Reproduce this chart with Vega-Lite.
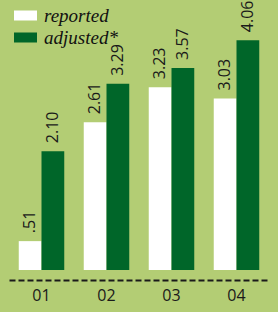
{
  "$schema": "https://vega.github.io/schema/vega-lite/v6.json",
  "width": 260,
  "height": 270,
  "autosize": {"type": "none"},
  "padding": {"left": 9, "right": 9, "top": 0, "bottom": 42},
  "background": "#b3cd74",
  "config": {"view": {"stroke": null}},
  "data": {
    "values": [
      {"quarter": "01", "series": "reported", "value": 0.51, "label": ".51"},
      {"quarter": "01", "series": "adjusted*", "value": 2.10, "label": "2.10"},
      {"quarter": "02", "series": "reported", "value": 2.61, "label": "2.61"},
      {"quarter": "02", "series": "adjusted*", "value": 3.29, "label": "3.29"},
      {"quarter": "03", "series": "reported", "value": 3.23, "label": "3.23"},
      {"quarter": "03", "series": "adjusted*", "value": 3.57, "label": "3.57"},
      {"quarter": "04", "series": "reported", "value": 3.03, "label": "3.03"},
      {"quarter": "04", "series": "adjusted*", "value": 4.06, "label": "4.06"}
    ]
  },
  "encoding": {
    "x": {
      "field": "quarter",
      "type": "nominal",
      "scale": {"paddingInner": 0.3, "paddingOuter": 0.15},
      "axis": {
        "title": null,
        "ticks": false,
        "labelAngle": 0,
        "labelFont": "Open Sans",
        "labelFontSize": 16,
        "labelColor": "#1a1a1a",
        "labelPadding": 7,
        "domainColor": "#1a1a1a",
        "domainWidth": 2,
        "domainDash": [6, 3],
        "offset": 10
      }
    },
    "xOffset": {"field": "series", "type": "nominal", "sort": ["reported", "adjusted*"], "scale": {"paddingInner": 0, "paddingOuter": 0}},
    "y": {
      "field": "value",
      "type": "quantitative",
      "scale": {"domain": [0, 4.77], "nice": false},
      "axis": null
    }
  },
  "layer": [
    {
      "mark": {"type": "bar"},
      "encoding": {
        "color": {
          "field": "series",
          "type": "nominal",
          "sort": ["reported", "adjusted*"],
          "scale": {"domain": ["reported", "adjusted*"], "range": ["#ffffff", "#006629"]},
          "legend": {
            "title": null,
            "orient": "none",
            "legendX": 5,
            "legendY": 4,
            "padding": 0,
            "symbolType": "M-1,-0.435H1V0.435H-1Z",
            "symbolSize": 529,
            "symbolStrokeWidth": 0,
            "symbolOpacity": 1,
            "labelFont": "Liberation Serif",
            "labelFontStyle": "italic",
            "labelFontSize": 19,
            "labelColor": "#111111",
            "labelOffset": 7,
            "rowPadding": -1
          }
        }
      }
    },
    {
      "mark": {"type": "text", "angle": 270, "align": "left", "baseline": "middle", "dx": 8, "font": "Open Sans", "fontSize": 16, "color": "#1a1a1a", "clip": false},
      "encoding": {
        "text": {"field": "label"}
      }
    }
  ]
}
